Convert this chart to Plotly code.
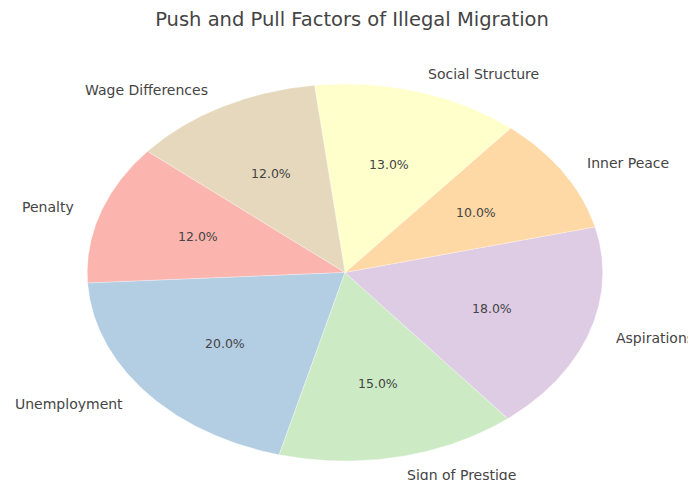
import numpy as np
import plotly.graph_objects as go

# Data
categories = ["Penalty", "Unemployment", "Sign of Prestige", "Aspirations",
              "Inner Peace", "Social Structure", "Wage Differences"]
values = [12, 20, 15, 18, 10, 13, 12]
colors = ["#fbb4ae", "#b3cde3", "#ccebc5", "#decbe4", "#fed9a6", "#ffffcc", "#e5d8bd"]
title_text = "Push and Pull Factors of Illegal Migration"

start_angle = 140.0  # degrees, counterclockwise like matplotlib
label_dist = 1.1
pct_dist = 0.6

total = float(sum(values))
fig = go.Figure()
annotations = []
theta = start_angle
for cat, val, col in zip(categories, values, colors):
    span = 360.0 * val / total
    angs = np.radians(np.linspace(theta, theta + span, 120))
    xs = np.concatenate([[0.0], np.cos(angs), [0.0]])
    ys = np.concatenate([[0.0], np.sin(angs), [0.0]])
    fig.add_trace(go.Scatter(x=xs, y=ys, mode="lines", fill="toself",
                             fillcolor=col, line=dict(color="rgba(255,255,255,0.6)", width=0.5),
                             name=cat, hoverinfo="name", showlegend=False))
    mid = np.radians(theta + span / 2)
    lx, ly = label_dist * np.cos(mid), label_dist * np.sin(mid)
    annotations.append(dict(x=lx, y=ly, xref="x", yref="y", text=cat, showarrow=False,
                            xanchor="left" if lx > 0 else "right", yanchor="middle",
                            font=dict(family="DejaVu Sans", size=14, color="#444444")))
    px, py = pct_dist * np.cos(mid), pct_dist * np.sin(mid)
    annotations.append(dict(x=px, y=py, xref="x", yref="y", text=f"{100*val/total:.1f}%",
                            showarrow=False, xanchor="center", yanchor="middle",
                            font=dict(family="DejaVu Sans", size=12.5, color="#444444")))
    theta += span

# page body has an 8px margin: size and place the figure to compensate
OFF = 8
W, H = 696 - OFF, 480 - OFF
cx, cy, rx, ry = 345.0 - OFF, 272.5 - OFF, 257.7, 188.5
fig.update_layout(
    width=W, height=H,
    margin=dict(l=0, r=0, t=0, b=0),
    paper_bgcolor="white", plot_bgcolor="white",
    xaxis=dict(range=[-cx / rx, (W - cx) / rx], visible=False, fixedrange=True),
    yaxis=dict(range=[-(H - cy) / ry, cy / ry], visible=False, fixedrange=True),
    annotations=annotations,
    title=dict(text=title_text, x=0.5, xanchor="center", y=1 - (19 - OFF) / H, yanchor="middle",
               yref="container",
               font=dict(family="DejaVu Sans", size=19.5, color="#444444")),
)

fig.write_html("out.html")
